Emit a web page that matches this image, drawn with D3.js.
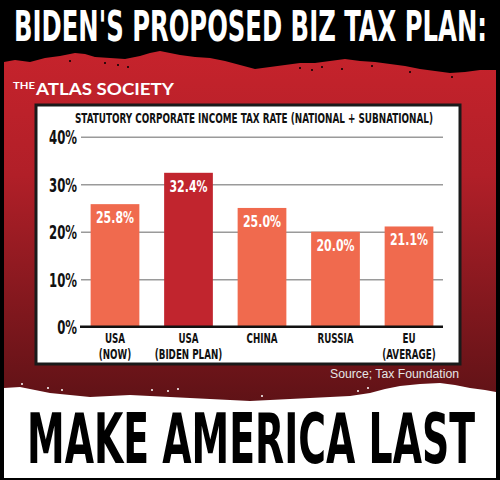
<!DOCTYPE html>
<html>
<head>
<meta charset="utf-8">
<script src="https://cdn.jsdelivr.net/npm/d3@7"></script>
<style>
html,body{margin:0;padding:0;background:#000;}
svg{display:block;}
</style>
</head>
<body>
<svg id="chart" width="500" height="480"></svg>
<script>
// ---- data ----
const categories = ["USA (NOW)", "USA (BIDEN PLAN)", "CHINA", "RUSSIA", "EU (AVERAGE)"];
const categoryLines = [["USA", "(NOW)"], ["USA", "(BIDEN PLAN)"], ["CHINA"], ["RUSSIA"], ["EU", "(AVERAGE)"]];
const values = [25.8, 32.4, 25.0, 20.0, 21.1];
const highlighted = [false, true, false, false, false];
const yTicks = [0, 10, 20, 30, 40];
const titleText = "BIDEN'S PROPOSED BIZ TAX PLAN:";
const subtitleText = "STATUTORY CORPORATE INCOME TAX RATE (NATIONAL + SUBNATIONAL)";
const sourceText = "Source; Tax Foundation";
const footerText = "MAKE AMERICA LAST";

const svg = d3.select("#chart");
const COND = "'Liberation Sans Narrow','DejaVu Sans Condensed','Arial Narrow',sans-serif";

function condense(sel, f) {
  sel.each(function () {
    const w = this.getComputedTextLength();
    this.setAttribute("textLength", w * f);
    this.setAttribute("lengthAdjust", "spacingAndGlyphs");
  });
}
function fitWidth(sel, w) {
  sel.attr("textLength", w).attr("lengthAdjust", "spacingAndGlyphs");
}
// measure a sample string to derive a condensing factor matching the reference width
function factorFor(sample, size, targetW) {
  const t = svg.append("text").attr("font-family", COND).attr("font-weight", "bold")
    .attr("font-size", size).text(sample);
  const w = t.node().getComputedTextLength();
  t.remove();
  return targetW / w;
}

// ---- background ----
const defs = svg.append("defs");
const grad = defs.append("linearGradient").attr("id", "redgrad")
  .attr("x1", 0).attr("y1", 0).attr("x2", 0).attr("y2", 1);
grad.append("stop").attr("offset", "0%").attr("stop-color", "#c6232c");
grad.append("stop").attr("offset", "35%").attr("stop-color", "#b11f28");
grad.append("stop").attr("offset", "100%").attr("stop-color", "#5e1216");

svg.append("rect").attr("width", 500).attr("height", 480).attr("fill", "#000");

const redTop = [[4,62],[15,60],[30,62],[45,58],[60,56],[75,53],[85,54],[95,57],[110,58],[125,59],[140,56],[150,53],[160,51],[170,53],[180,55],[195,57],[210,58],[225,61],[240,65],[255,69],[270,67],[285,65],[300,63],[315,63],[330,61],[345,59],[360,61],[375,62],[390,64],[405,66],[420,69],[435,71],[450,73],[465,72],[480,70],[496,70]];
const line = d3.line();
svg.append("path")
  .attr("d", line(redTop.concat([[496,405],[4,405]])) + "Z")
  .attr("fill", "url(#redgrad)");

// a few dark specks along the torn edge
const specks = [[70,61],[105,63],[118,65],[128,67],[300,68],[312,70],[322,67],[342,69],[372,66],[410,72],[452,77]];
svg.append("g").selectAll("circle").data(specks).join("circle")
  .attr("cx", d => d[0]).attr("cy", d => d[1]).attr("r", 1).attr("fill", "#000");

const whiteTop = [[4,388],[20,387],[35,390],[50,393],[70,395],[90,397],[110,396],[130,395],[150,396],[170,397],[190,398],[210,399],[230,400],[250,401],[270,400],[290,399],[310,398],[330,397],[350,396],[370,393],[385,389],[400,386],[420,384],[440,383],[455,385],[470,388],[485,390],[496,392]];
svg.append("path")
  .attr("d", line(whiteTop.concat([[496,478],[4,478]])) + "Z")
  .attr("fill", "#fff");
const wspecks = [[22,384],[48,388],[62,390],[152,390],[168,391],[178,389],[262,396],[358,391],[368,388]];
svg.append("g").selectAll("circle").data(wspecks).join("circle")
  .attr("cx", d => d[0]).attr("cy", d => d[1]).attr("r", 1).attr("fill", "#fff");

// ---- title ----
svg.append("text").attr("x", 14).attr("y", 40.5)
  .attr("font-family", COND).attr("font-weight", "bold").attr("font-size", 42)
  .attr("fill", "#fff").text(titleText).call(fitWidth, 473);

// ---- logo ----
svg.append("text").attr("x", 13).attr("y", 89)
  .attr("font-family", "Lato, 'Open Sans', sans-serif").attr("font-weight", "bold").attr("font-size", 8.5)
  .attr("fill", "#fff").text("THE").call(fitWidth, 22);
svg.append("text").attr("x", 36).attr("y", 94.5)
  .attr("font-family", "Lato, 'Open Sans', sans-serif").attr("font-weight", "bold").attr("font-size", 17.5)
  .attr("fill", "#fff").text("ATLAS SOCIETY").call(fitWidth, 138);

// ---- chart box ----
svg.append("rect").attr("x", 36).attr("y", 105).attr("width", 424).attr("height", 259)
  .attr("fill", "#fff").attr("stroke", "#1a1a1a").attr("stroke-width", 3);

svg.append("text").attr("x", 254).attr("y", 123).attr("text-anchor", "middle")
  .attr("font-family", COND).attr("font-weight", "bold").attr("font-size", 14)
  .attr("fill", "#111").text(subtitleText).call(fitWidth, 358);

// ---- scales ----
const x = d3.scaleBand().domain(categories).range([81, 443]).paddingInner(0.337).paddingOuter(0.131);
const y = d3.scaleLinear().domain([0, 40]).range([326.7, 136.7]);

const fTick = factorFor("40%", 19, 28);
const yAxis = svg.append("g").attr("transform", "translate(81,0)")
  .call(d3.axisLeft(y).tickValues(yTicks).tickFormat(d => d + "%").tickSize(-(443 - 81)).tickPadding(4));
yAxis.select(".domain").remove();
yAxis.selectAll(".tick line").attr("stroke", "#9a9a9a").attr("stroke-width", 1.6);
yAxis.selectAll(".tick text")
  .attr("font-family", COND).attr("font-weight", "bold").attr("font-size", 19)
  .attr("fill", "#111").attr("dy", "0.36em")
  .call(condense, fTick);

// ---- bars ----
svg.append("g").selectAll("rect").data(values).join("rect")
  .attr("x", (d, i) => x(categories[i]))
  .attr("width", x.bandwidth())
  .attr("y", d => y(d))
  .attr("height", d => y(0) - y(d))
  .attr("fill", (d, i) => highlighted[i] ? "#c1252e" : "#f06a4e");

const fVal = factorFor("25.8%", 16.5, 38);
svg.append("g").selectAll("text").data(values).join("text")
  .attr("x", (d, i) => x(categories[i]) + x.bandwidth() / 2)
  .attr("y", d => y(d) + 19)
  .attr("text-anchor", "middle")
  .attr("font-family", COND).attr("font-weight", "bold").attr("font-size", 16.5)
  .attr("fill", "#fff")
  .text(d => d.toFixed(1) + "%")
  .call(condense, fVal);

// baseline
svg.append("line").attr("x1", 80).attr("x2", 443).attr("y1", y(0)).attr("y2", y(0))
  .attr("stroke", "#111").attr("stroke-width", 2.5);

// x labels
const fX = factorFor("RUSSIA", 14.5, 36);
const xl = svg.append("g");
categoryLines.forEach((lines, i) => {
  lines.forEach((t, j) => {
    xl.append("text")
      .attr("x", x(categories[i]) + x.bandwidth() / 2)
      .attr("y", 343 + j * 15.5)
      .attr("text-anchor", "middle")
      .attr("font-family", COND).attr("font-weight", "bold").attr("font-size", 14.5)
      .attr("fill", "#111").text(t)
      .call(condense, fX);
  });
});

// ---- source ----
svg.append("text").attr("x", 459).attr("y", 377.5).attr("text-anchor", "end")
  .attr("font-family", "'Liberation Sans', Arial, sans-serif").attr("font-size", 12)
  .attr("fill", "#e6e6e6").text(sourceText).call(fitWidth, 129);

// ---- footer ----
svg.append("text").attr("x", 27).attr("y", 463)
  .attr("font-family", COND).attr("font-weight", "bold").attr("font-size", 70)
  .attr("fill", "#000").text(footerText).call(fitWidth, 448);
</script>
</body>
</html>
